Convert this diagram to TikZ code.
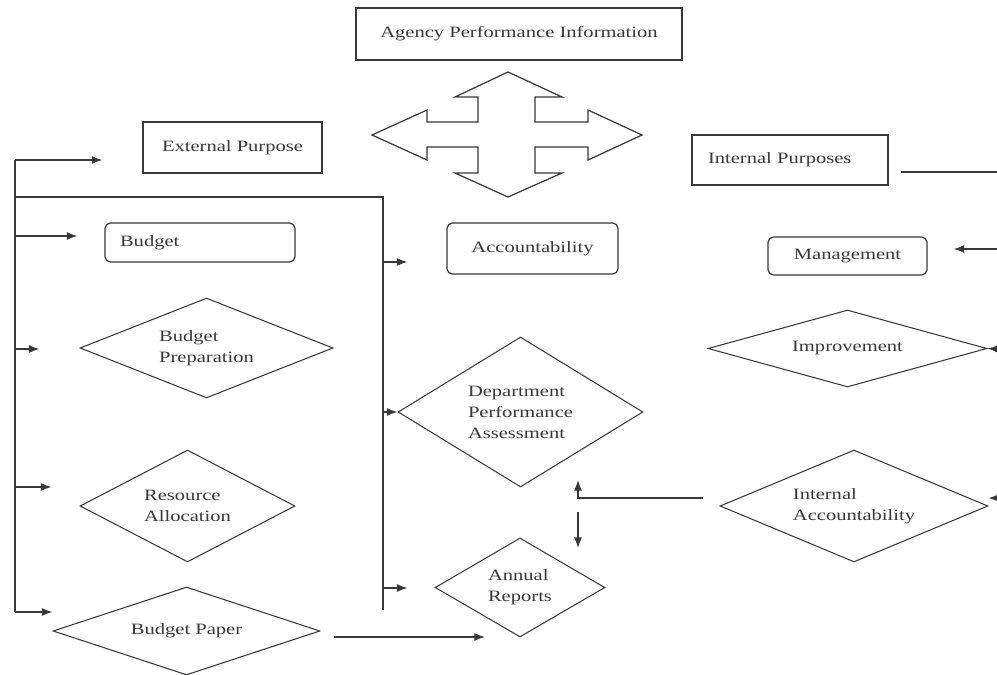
\documentclass[tikz,border=0pt]{standalone}
\usepackage{fontspec}
\setmainfont[FakeStretch=1.3]{Liberation Serif}
\usetikzlibrary{shapes.geometric}
\usetikzlibrary{arrows.meta}
\definecolor{inkgray}{HTML}{383838}
\tikzset{%
	% Specifications for style of nodes:
	base/.style = {draw=inkgray, line width=0.7pt, text=inkgray,
		inner sep=0pt,
		font=\fontsize{9}{12}\selectfont},
	plainbox/.style = {base, rectangle},
	softbox/.style = {base, rectangle, rounded corners=3pt},
	decision/.style = {base, diamond, aspect=2, align=left, line width=0.6pt}
}

\begin{document}
\begin{tikzpicture}[x=0.02cm, y=-0.02cm, >={Latex[length=6pt,width=4.5pt]}, color=inkgray, line width=0.7pt]
		\useasboundingbox (0,0) rectangle (997,675);
		%% Top
		\node [plainbox, minimum width=6.52cm, minimum height=1.04cm] (apInfo) at (519,34) {Agency Performance Information};
		\draw [line join=miter] (508,72) -- (562,97) -- (535,97) -- (535,122) -- (588,122) -- (588,110) -- (642,135) -- (588,160) -- (588,147) -- (535,147) -- (535,173) -- (562,173) -- (508,197) -- (455,173) -- (478,173) -- (478,147) -- (427,147) -- (427,160) -- (372,135) -- (427,110) -- (427,122) -- (478,122) -- (478,97) -- (455,97) -- cycle;
		%% External side
		\node [plainbox, minimum width=3.58cm, minimum height=1.02cm] (extPurpose) at (232.5,147.5) {External Purpose};
		\node [softbox, minimum width=3.8cm, minimum height=0.78cm, text width=3.2cm, align=left] (budget) at (200,242.5) {Budget};
		\node [decision, minimum width=5.06cm, minimum height=2.0cm] (budgetPrep) at (206.5,348) {Budget\\Preparation};
		\node [decision, minimum width=4.3cm, minimum height=2.24cm] (resAlloc) at (187.5,506) {Resource\\Allocation};
		\node [decision, minimum width=5.34cm, minimum height=1.76cm] (budgetPaper) at (186.5,631) {Budget Paper};
		\node [softbox, minimum width=3.42cm, minimum height=1.02cm] (accountability) at (532.5,248.5) {Accountability};
		\node [decision, minimum width=4.9cm, minimum height=3.0cm] (deptPerf) at (520.5,412) {Department\\Performance\\Assessment};
		\node [decision, minimum width=3.4cm, minimum height=1.98cm] (annualRep) at (520,587.5) {Annual\\Reports};
		%% Internal side
		\node [plainbox, minimum width=3.92cm, minimum height=1.0cm, text width=3.28cm, align=left] (intPurpose) at (790,160) {Internal Purposes};
		\node [softbox, minimum width=3.18cm, minimum height=0.76cm] (management) at (847.5,256) {Management};
		\node [decision, minimum width=5.58cm, minimum height=1.54cm] (improvement) at (847.5,348.5) {Improvement};
		\node [decision, minimum width=5.36cm, minimum height=2.24cm] (intAcc) at (854,506) {Internal\\Accountability};
		%% Left bus
		\coordinate (lExt) at (15,160);
		\coordinate (lBudget) at (15,236);
		\coordinate (lPrep) at (15,349);
		\coordinate (lAlloc) at (15,487);
		\coordinate (lPaper) at (15,612);
		\coordinate (frameL) at (15,197);
		\coordinate (frameR) at (383,197);
		\coordinate (midBottom) at (383,610);
		\draw (lExt) -- (lPaper);
		\draw (frameL) -- (frameR) -- (midBottom);
		\draw[->, shorten >=0.8cm] (lExt) -- (lExt -| extPurpose.west);
		\draw[->, shorten >=0.54cm] (lBudget) -- (lBudget -| budget.west);
		\draw[->, shorten >=0.8cm] (lPrep) -- (lPrep -| budgetPrep.west);
		\draw[->, shorten >=0.56cm] (lAlloc) -- (lAlloc -| resAlloc.west);
		\draw[->] (lPaper) -- (lPaper -| budgetPaper.west);
		%% Middle bus
		\coordinate (mAcc) at (383,262);
		\coordinate (mDept) at (383,412);
		\coordinate (mAnnual) at (383,588);
		\draw[->, shorten >=0.78cm] (mAcc) -- (mAcc -| accountability.west);
		\draw[->] (mDept) -- (deptPerf.west);
		\draw[->, shorten >=0.54cm] (mAnnual) -- (mAnnual -| annualRep.west);
		\coordinate (paperEnd) at (485,637);
		\draw[->, shorten <=0.26cm] (budgetPaper.east |- paperEnd) -- (paperEnd);
		%% Feedback between the two sides
		\coordinate (iaBend) at (578,498);
		\coordinate (iaTip) at (578,480);
		\draw[->, shorten <=0.34cm] (intAcc.west |- iaBend) -- (iaBend) -- (iaTip);
		\coordinate (dnStart) at (578,512);
		\coordinate (dnEnd) at (578,548);
		\draw[->] (dnStart) -- (dnEnd);
		%% Right edge
		\coordinate (rTop) at (997,172);
		\coordinate (rMgmt) at (997,249);
		\coordinate (rImprove) at (997,349);
		\coordinate (rIntAcc) at (997,498);
		\draw[shorten <=0.24cm] (intPurpose.east |- rTop) -- (rTop);
		\draw[->, shorten >=0.52cm] (rMgmt) -- (rMgmt -| management.east);
		\draw[->] (rImprove) -- (improvement.east);
		\draw[->] (rIntAcc) -- (rIntAcc -| intAcc.east);
	\end{tikzpicture}
\end{document}
